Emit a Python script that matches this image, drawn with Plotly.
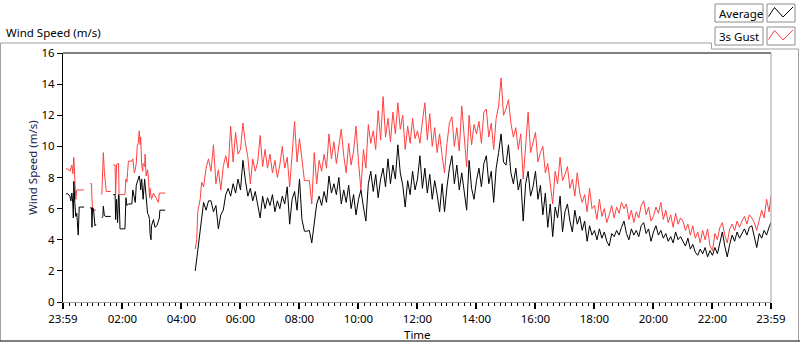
import plotly.graph_objects as go

TITLE = "Wind Speed (m/s)"
Y_LABEL = "Wind Speed (m/s)"
X_LABEL = "Time"
SERIES_NAMES = ["Average", "3s Gust"]
TICK_LABELS = ["23:59", "02:00", "04:00", "06:00", "08:00", "10:00", "12:00",
               "14:00", "16:00", "18:00", "20:00", "22:00", "23:59"]
Y_TICKS = [0, 2, 4, 6, 8, 10, 12, 14, 16]

# irregular / gappy part of the night (None = no data)
EARLY_TIME = ["00:05", "00:09", "00:13", "00:15", "00:17", "00:19", "00:20", "00:21", "00:23", "00:25",
              "00:27", "00:30", "00:32", "00:42", "00:47",
              "00:54", "00:57", "00:58", "00:59", "01:01", "01:04", "01:06", "01:12",
              "01:18", "01:20", "01:21", "01:23", "01:25", "01:27", "01:36", "01:38",
              "01:41", "01:45", "01:46", "01:48", "01:50", "01:52", "01:53", "01:55", "02:05", "02:07",
              "02:09", "02:12", "02:19", "02:21", "02:24", "02:26", "02:28", "02:30", "02:32", "02:34",
              "02:36", "02:37", "02:39", "02:41", "02:42", "02:45", "02:46", "02:48", "02:51", "02:53",
              "02:55", "02:56", "02:58", "02:59", "03:03", "03:06", "03:10", "03:13", "03:15", "03:16",
              "03:27", "03:50",
              "04:28", "04:31", "04:33", "04:35", "04:38", "04:41", "04:45", "04:50", "04:55"]
EARLY_AVG = [6.95, 6.95, 6.8, 6.5, 7.0, 6.3, 5.4, 7.75, 6.4, 5.5, 5.7, 4.3, 6.1, 6.1, None,
             6.05, 6.05, 4.8, 6.05, 6.0, 4.9, 5.0, None,
             5.4, 5.5, 6.15, 5.6, 5.5, 5.5, 5.5, None,
             6.9, 6.9, 5.3, 6.6, 5.1, 6.9, 6.8, 4.7, 4.7, 6.7,
             6.2, 6.3, 6.3, 7.2, 6.6, 6.4, 7.5, 7.75, 7.9, 8.1,
             7.7, 7.2, 7.9, 7.2, 6.6, 7.9, 7.4, 6.8, 5.7, 5.6,
             5.3, 4.4, 4.0, 4.9, 5.3, 4.8, 4.9, 5.2, 5.4, 5.9,
             5.9, None,
             2.0, 2.8, 3.6, 4.0, 4.9, 5.5, 6.4, 5.9, 6.5]
EARLY_GUST = [8.55, 8.55, 8.4, 8.7, 8.8, 8.25, 8.6, 9.3, 7.9, 6.6, 7.2, 7.2, 7.2, 7.2, None,
              7.6, 7.6, 6.6, 6.0, 5.9, 5.9, 5.9, None,
              6.9, 8.7, 9.6, 8.4, 7.4, 7.1, 7.1, None,
              8.8, 8.8, 6.9, 8.8, 8.9, 8.9, 6.9, 6.9, 6.9, 7.9,
              7.7, 9.05, 9.05, 9.2, 8.3, 8.5, 8.9, 10.0, 10.2, 11.0,
              10.1, 10.6, 8.8, 8.4, 8.9, 8.7, 9.5, 8.1, 8.5, 7.9,
              6.7, 7.3, 6.9, 6.6, 7.0, 6.8, 6.6, 6.4, 7.0, 7.0,
              7.0, None,
              3.4, 4.0, 5.8, 6.2, 6.6, 7.7, 7.4, 8.6, 9.2]

# 5-minute samples from 05:00 to 23:55
DAY_START = "05:00"
DAY_STEP_MIN = 5
DAY_AVG = [
    6.5, 5.8, 6.2, 4.7, 5.6, 5.9, 6.9, 7.3, 6.8, 7.6, 7.0, 7.9,
    7.2, 9.1, 7.8, 6.8, 7.3, 6.5, 7.1, 6.3, 5.4, 6.8, 6.0, 6.7,
    6.2, 6.9, 5.8, 6.5, 6.0, 6.8, 6.3, 7.4, 5.0, 6.6, 7.1, 5.9,
    7.9, 5.3, 4.55, 4.55, 4.6, 3.8, 4.9, 6.3, 6.8, 6.2, 7.1, 6.4,
    8.1, 7.0, 7.6, 6.9, 8.0, 6.3, 7.2, 6.4, 7.5, 6.0, 6.9, 5.6,
    6.6, 7.2, 6.1, 5.2, 7.6, 8.4, 7.1, 8.2, 6.7, 7.9, 8.6, 7.4,
    9.2, 7.6, 8.8, 7.9, 10.1, 8.3, 7.5, 6.1, 7.8, 6.9, 8.4, 7.2,
    7.9, 9.4, 7.3, 8.6, 7.0, 8.2, 6.6, 7.8, 6.9, 5.8, 7.6, 5.8,
    7.4, 8.6, 9.4, 7.6, 8.8, 7.2, 8.3, 7.1, 5.9, 9.1, 7.3, 6.6,
    7.8, 8.6, 7.4, 8.9, 9.4, 7.6, 8.4, 6.4, 8.6, 9.6, 10.8, 9.0,
    8.8, 10.1, 8.3, 7.6, 8.6, 7.2, 7.9, 5.2, 7.6, 8.4, 6.8, 7.4,
    8.4, 6.6, 7.5, 5.6, 7.0, 4.8, 6.3, 4.2, 6.1, 5.4, 6.8, 4.5,
    5.8, 6.3, 5.2, 4.5, 5.9, 5.0, 5.5, 4.6, 5.2, 3.9, 4.9, 4.3,
    4.6, 4.0, 4.7, 4.1, 4.5, 3.9, 3.6, 4.4, 4.2, 4.6, 4.3, 4.8,
    5.2, 4.4, 4.0, 4.7, 4.3, 4.6, 4.2, 4.9, 5.1, 4.4, 4.7, 3.9,
    4.5, 4.9, 4.3, 4.6, 4.1, 4.4, 3.9, 4.2, 3.8, 4.5, 4.0, 4.2,
    3.9, 3.6, 4.1, 3.4, 3.7, 3.2, 3.0, 3.4, 3.1, 3.5, 2.9, 3.3,
    3.0, 3.5, 3.1, 3.8, 4.5, 3.6, 2.9, 3.7, 4.3, 3.9, 4.5, 4.1,
    4.4, 4.7, 4.3, 4.8, 4.9, 4.2, 3.5, 4.4, 4.1, 4.6, 4.3, 4.8,
]
DAY_GUST = [
    8.4, 10.1, 7.6, 8.5, 7.2, 8.7, 9.4, 8.6, 11.3, 9.0, 10.9, 9.5,
    9.8, 11.5, 10.2, 9.3, 7.6, 9.2, 8.4, 9.0, 10.7, 8.7, 9.8, 8.6,
    9.5, 8.3, 9.1, 8.0, 8.8, 10.0, 8.6, 9.3, 7.4, 9.4, 11.6, 9.0,
    10.5, 9.2, 7.8, 7.8, 7.8, 6.3, 9.6, 7.6, 9.1, 8.4, 9.5, 8.6,
    10.8, 9.2, 10.3, 8.9, 10.0, 11.1, 9.4, 8.3, 10.2, 8.8, 9.7, 11.3,
    9.0, 7.2, 9.8, 8.6, 11.4, 10.2, 11.0, 9.8, 12.3, 10.4, 13.2, 10.6,
    11.8, 10.3, 12.2, 10.8, 12.8, 11.1, 12.0, 9.8, 11.3, 10.2, 11.8, 10.5,
    11.0, 10.2, 11.6, 12.8, 10.4, 12.1, 10.0, 11.2, 9.6, 10.8, 9.4, 8.3,
    10.2, 11.5, 11.9, 10.0, 11.2, 9.7, 12.6, 10.4, 8.7, 12.0, 10.1, 11.4,
    10.8, 11.6, 10.2, 12.2, 12.4, 10.6, 11.5, 9.8, 11.8, 12.6, 14.4, 12.0,
    12.4, 13.0, 11.5, 10.6, 11.2, 9.8, 10.8, 7.9, 10.4, 12.2, 9.6, 10.2,
    10.9, 9.0, 9.6, 10.0, 8.3, 8.9, 7.4, 6.3, 8.4, 7.6, 9.3, 7.8,
    8.2, 8.7, 7.3, 7.9, 6.8, 8.3, 7.0, 6.4, 6.9, 5.8, 7.3, 6.0,
    6.2, 5.3, 6.6, 5.5, 6.0, 5.1, 5.6, 6.2, 5.4, 6.1, 5.7, 6.4,
    6.0, 6.3, 5.3, 5.9, 5.1, 5.8, 5.4, 6.2, 6.5, 5.6, 6.1, 5.2,
    5.5, 6.1, 5.7, 6.4, 5.3, 5.9, 5.1, 5.6, 4.8, 5.7, 5.0, 5.4,
    5.2, 4.6, 5.0, 4.3, 4.9, 4.1, 4.5, 3.8, 4.6, 4.0, 4.7, 3.6,
    3.3, 4.4, 4.0, 4.8, 5.1, 4.3, 3.8, 4.7, 5.0, 4.6, 5.2, 4.8,
    5.2, 5.5, 5.0, 5.6, 5.4, 5.1, 4.6, 5.3, 5.9, 5.4, 6.6, 5.8,
]
END_TIME = "23:59"
END_AVG = 5.1
END_GUST = 6.8


def to_min(s):
    h, m = s.split(":")
    return int(h) * 60 + int(m)


times = ([to_min(t) for t in EARLY_TIME]
         + [to_min(DAY_START) + i * DAY_STEP_MIN for i in range(len(DAY_AVG))]
         + [to_min(END_TIME)])
avg = EARLY_AVG + DAY_AVG + [END_AVG]
gust = EARLY_GUST + DAY_GUST + [END_GUST]

tickvals = [to_min(t) for t in TICK_LABELS]
tickvals[0] -= 1440  # first label is 23:59 of the previous day

W, H = 800, 342
L, R, T, B = 63, 29, 53, 40
PW, PH = W - L - R, H - T - B


def fx(px):
    return (px - L) / PW


def fy(py):
    return (H - B - py) / PH


FONT = "Noto Sans"
FS = 11.5
RED = "#ff4040"

fig = go.Figure()
fig.add_trace(go.Scatter(x=times, y=gust, mode="lines", name=SERIES_NAMES[1],
                         line=dict(color=RED, width=1), connectgaps=False))
fig.add_trace(go.Scatter(x=times, y=avg, mode="lines", name=SERIES_NAMES[0],
                         line=dict(color="#000000", width=1), connectgaps=False))

shapes = []
# plot-area top (black) and right (gray) borders
shapes.append(dict(type="line", xref="paper", yref="paper", x0=0, x1=1, y0=1, y1=1,
                   line=dict(color="#000000", width=1)))
shapes.append(dict(type="line", xref="paper", yref="paper", x0=1, x1=1, y0=0, y1=1,
                   line=dict(color="#a0a0a0", width=1)))
# outer panel frame
path = (f"M {fx(0.5)},{fy(341)} L {fx(0.5)},{fy(43)} L {fx(711.5)},{fy(43)} "
        f"L {fx(711.5)},{fy(49)} L {fx(798.5)},{fy(49)} L {fx(798.5)},{fy(341)}")
shapes.append(dict(type="path", xref="paper", yref="paper", path=path,
                   line=dict(color="#a0a0a0", width=1)))
shapes.append(dict(type="line", xref="paper", yref="paper", x0=fx(0), x1=fx(800),
                   y0=fy(341), y1=fy(341), line=dict(color="#000000", width=1)))

# custom legend boxes
annotations = []
legend_rows = [(SERIES_NAMES[0], "#000000", 4), (SERIES_NAMES[1], RED, 27)]
for name, col, top in legend_rows:
    shapes.append(dict(type="rect", xref="paper", yref="paper",
                       x0=fx(715), x1=fx(763), y0=fy(top), y1=fy(top + 18),
                       line=dict(color="#8c8c8c", width=1), fillcolor="white"))
    shapes.append(dict(type="rect", xref="paper", yref="paper",
                       x0=fx(767), x1=fx(795), y0=fy(top), y1=fy(top + 18),
                       line=dict(color="#8c8c8c", width=1), fillcolor="white"))
    zz = (f"M {fx(768.5)},{fy(top + 12.5)} L {fx(774.5)},{fy(top + 3.5)} "
          f"L {fx(783)},{fy(top + 13)} L {fx(793)},{fy(top + 3)}")
    shapes.append(dict(type="path", xref="paper", yref="paper", path=zz,
                       line=dict(color=col, width=1)))
    annotations.append(dict(text=name, xref="paper", yref="paper", x=fx(716.5), y=fy(top + 9),
                            xanchor="left", yanchor="middle", showarrow=False,
                            font=dict(family=FONT, size=FS, color="#000000")))

annotations.append(dict(text=TITLE, xref="paper", yref="paper", x=fx(4), y=fy(33),
                        xanchor="left", yanchor="middle", showarrow=False,
                        font=dict(family=FONT, size=FS, color="#000000")))
annotations.append(dict(text=Y_LABEL, xref="paper", yref="paper", x=fx(32), y=fy(168),
                        xanchor="center", yanchor="middle", textangle=-90, showarrow=False,
                        font=dict(family=FONT, size=FS, color="#1a2048")))
annotations.append(dict(text=X_LABEL, xref="paper", yref="paper", x=fx(417), y=fy(334),
                        xanchor="center", yanchor="middle", showarrow=False,
                        font=dict(family=FONT, size=FS, color="#000000")))

fig.update_layout(
    width=W, height=H,
    margin=dict(l=L, r=R, t=T, b=B, pad=0),
    paper_bgcolor="white", plot_bgcolor="white",
    showlegend=False,
    font=dict(family=FONT, size=FS, color="#000000"),
    shapes=shapes, annotations=annotations,
    xaxis=dict(range=[tickvals[0], tickvals[-1]], tickmode="array", tickvals=tickvals,
               ticktext=TICK_LABELS, ticks="outside", ticklen=6, tickwidth=2,
               tickcolor="#000000", showline=True, linecolor="#a0a0a0", linewidth=1,
               showgrid=False, zeroline=False,
               minor=dict(ticks="outside", ticklen=3, tickwidth=1, tickcolor="#000000",
                          tickmode="linear", tick0=0, dtick=12, showgrid=False)),
    yaxis=dict(range=[Y_TICKS[0], Y_TICKS[-1]], tickmode="array", tickvals=Y_TICKS,
               ticks="outside", ticklen=5, tickwidth=1, tickcolor="#000000",
               showline=True, linecolor="#000000", linewidth=1,
               showgrid=False, zeroline=False),
)

fig.write_html("out.html", config={"displayModeBar": False},
               post_script="document.body.style.margin='0';document.body.style.overflow='hidden';")
